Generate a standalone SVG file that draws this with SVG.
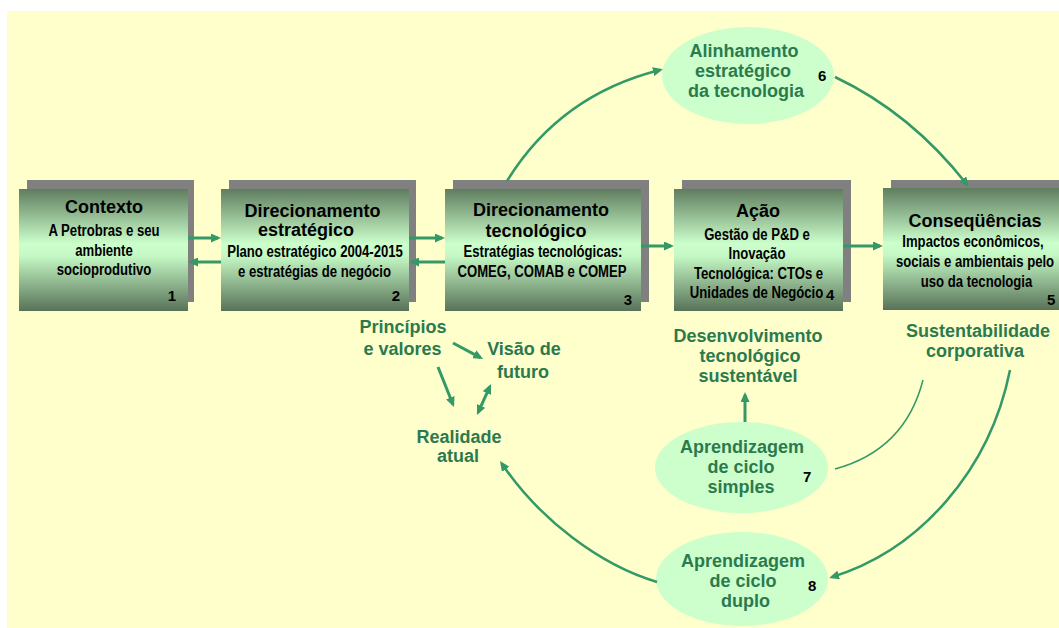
<svg xmlns="http://www.w3.org/2000/svg" width="1059" height="628" viewBox="0 0 1059 628">
<defs>
<linearGradient id="boxg" x1="0" y1="0" x2="0" y2="1">
<stop offset="0" stop-color="#5f7d5f"/>
<stop offset="0.45" stop-color="#ccffcc"/>
<stop offset="0.55" stop-color="#c4f8c4"/>
<stop offset="1" stop-color="#587258"/>
</linearGradient>
<marker id="ah" viewBox="0 0 10 9" markerWidth="10" markerHeight="9" refX="7" refY="4.5" orient="auto-start-reverse" markerUnits="userSpaceOnUse">
<path d="M0,0 L10,4.5 L0,9 z" fill="#339966"/>
</marker>
</defs>
<style>
.shadow{fill:#808080}
.box{fill:url(#boxg)}
.ell{fill:#ccffcc}
.t{font-family:"Liberation Sans",Arial,sans-serif;font-weight:bold;fill:#000;text-anchor:middle}
.h{font-size:18px}
.s{font-size:16px}
.n{font-family:"Liberation Sans",Arial,sans-serif;font-weight:bold;font-size:15px;fill:#000}
.g{font-family:"Liberation Sans",Arial,sans-serif;font-weight:bold;font-size:18px;fill:#2b7a4f;text-anchor:middle}
.c{fill:none;stroke:#339966;stroke-width:3}
.cc{fill:none;stroke:#339966;stroke-width:2.5}
.thin{fill:none;stroke:#339966;stroke-width:1.5}
</style>
<rect x="0" y="0" width="1059" height="628" fill="#ffffff"/>
<rect x="7" y="11" width="1052" height="617" fill="#ffffcc"/>

<g id="n1">
<rect class="shadow" x="27" y="180" width="167" height="122"/>
<rect class="box" x="19" y="189" width="169" height="122"/>
<text class="t h" x="104" y="213">Contexto</text>
<text class="t s" transform="translate(104,0) scale(0.82,1)" y="236">A Petrobras e seu</text>
<text class="t s" transform="translate(104,0) scale(0.82,1)" y="256">ambiente</text>
<text class="t s" transform="translate(104,0) scale(0.82,1)" y="275">socioprodutivo</text>
<text class="n" x="176" y="301" text-anchor="end">1</text>
</g>
<g id="n2">
<rect class="shadow" x="229" y="180" width="187" height="122"/>
<rect class="box" x="221" y="189" width="188" height="122"/>
<text class="t h" x="312.5" y="217">Direcionamento</text>
<text class="t h" x="306" y="236">estratégico</text>
<text class="t s" transform="translate(315,0) scale(0.82,1)" y="257">Plano estratégico 2004-2015</text>
<text class="t s" transform="translate(314.5,0) scale(0.82,1)" y="277">e estratégias de negócio</text>
<text class="n" x="400" y="301" text-anchor="end">2</text>
</g>
<g id="n3">
<rect class="shadow" x="453" y="180" width="196" height="122"/>
<rect class="box" x="445" y="189" width="196" height="122"/>
<text class="t h" x="541" y="216">Direcionamento</text>
<text class="t h" x="536" y="237">tecnológico</text>
<text class="t s" transform="translate(543,0) scale(0.82,1)" y="257">Estratégias tecnológicas:</text>
<text class="t s" transform="translate(542,0) scale(0.82,1)" y="277">COMEG, COMAB e COMEP</text>
<text class="n" x="632" y="305" text-anchor="end">3</text>
</g>
<g id="n4">
<rect class="shadow" x="682" y="180" width="169" height="122"/>
<rect class="box" x="674" y="189" width="169" height="122"/>
<text class="t h" x="758" y="217">Ação</text>
<text class="t s" transform="translate(757,0) scale(0.82,1)" y="240">Gestão de P&amp;D e</text>
<text class="t s" transform="translate(757,0) scale(0.82,1)" y="259">Inovação</text>
<text class="t s" transform="translate(758.5,0) scale(0.82,1)" y="279">Tecnológica: CTOs e</text>
<text class="t s" transform="translate(756.5,0) scale(0.82,1)" y="298">Unidades de Negócio</text>
<text class="n" x="826" y="300">4</text>
</g>
<g id="n5">
<rect class="shadow" x="891" y="180" width="168" height="122"/>
<rect class="box" x="883" y="188" width="176" height="122"/>
<text class="t h" x="975" y="227">Conseqüências</text>
<text class="t s" transform="translate(973,0) scale(0.82,1)" y="247">Impactos econômicos,</text>
<text class="t s" transform="translate(975,0) scale(0.82,1)" y="267">sociais e ambientais pelo</text>
<text class="t s" transform="translate(976.5,0) scale(0.82,1)" y="287">uso da tecnologia</text>
<text class="n" x="1047" y="305">5</text>
</g>

<g id="n6">
<ellipse class="ell" cx="748" cy="75.5" rx="86" ry="48.5"/>
<text class="g" x="744" y="57">Alinhamento</text>
<text class="g" x="743" y="77">estratégico</text>
<text class="g" x="746" y="97">da tecnologia</text>
<text class="n" x="818" y="81">6</text>
</g>
<g id="n7">
<ellipse class="ell" cx="741.5" cy="467.5" rx="86.5" ry="45.5"/>
<text class="g" x="742" y="453">Aprendizagem</text>
<text class="g" x="741" y="473">de ciclo</text>
<text class="g" x="741" y="493">simples</text>
<text class="n" x="803" y="482">7</text>
</g>
<g id="n8">
<ellipse class="ell" cx="742" cy="579" rx="86" ry="47"/>
<text class="g" x="743" y="567">Aprendizagem</text>
<text class="g" x="743" y="587">de ciclo</text>
<text class="g" x="745.5" y="607">duplo</text>
<text class="n" x="808" y="591">8</text>
</g>

<g id="principios">
<text class="g" x="403" y="333">Princípios</text>
<text class="g" x="402.5" y="355">e valores</text>
</g>
<g id="visao">
<text class="g" x="524" y="355">Visão de</text>
<text class="g" x="523" y="378">futuro</text>
</g>
<g id="realidade">
<text class="g" x="459" y="443">Realidade</text>
<text class="g" x="458" y="462">atual</text>
</g>
<g id="desenvolvimento">
<text class="g" x="748" y="342">Desenvolvimento</text>
<text class="g" x="750" y="362">tecnológico</text>
<text class="g" x="748" y="382">sustentável</text>
</g>
<g id="sustentabilidade">
<text class="g" x="978" y="337">Sustentabilidade</text>
<text class="g" x="975" y="357">corporativa</text>
</g>

<g id="connectors">
<line class="c" x1="188" y1="238" x2="218" y2="238" marker-end="url(#ah)"/>
<line class="c" x1="221" y1="262" x2="191" y2="262" marker-end="url(#ah)"/>
<line class="c" x1="409" y1="238" x2="442" y2="238" marker-end="url(#ah)"/>
<line class="c" x1="445" y1="262" x2="412" y2="262" marker-end="url(#ah)"/>
<line class="c" x1="641" y1="246" x2="671" y2="246" marker-end="url(#ah)"/>
<line class="c" x1="843" y1="246" x2="880" y2="246" marker-end="url(#ah)"/>
<path class="cc" d="M507,181 Q560,95 660,70" marker-end="url(#ah)"/>
<path class="cc" d="M835,77 Q911,113 967,184.6" marker-end="url(#ah)"/>
<path class="cc" d="M1010,370 C990,470 920,550 832,577" marker-end="url(#ah)"/>
<path class="cc" d="M657,582 C600,565 540,520 501.7,463.5" marker-end="url(#ah)"/>
<path class="thin" d="M835,469 Q905,450 923,380"/>
<line class="c" x1="745" y1="422" x2="745" y2="395" marker-end="url(#ah)"/>
<line class="c" x1="453" y1="343" x2="480.4" y2="357.6" marker-end="url(#ah)"/>
<line class="c" x1="438" y1="367" x2="452.9" y2="404.2" marker-end="url(#ah)"/>
<line class="c" x1="478.2" y1="412.3" x2="489.8" y2="386.7" marker-start="url(#ah)" marker-end="url(#ah)"/>
</g>
</svg>
